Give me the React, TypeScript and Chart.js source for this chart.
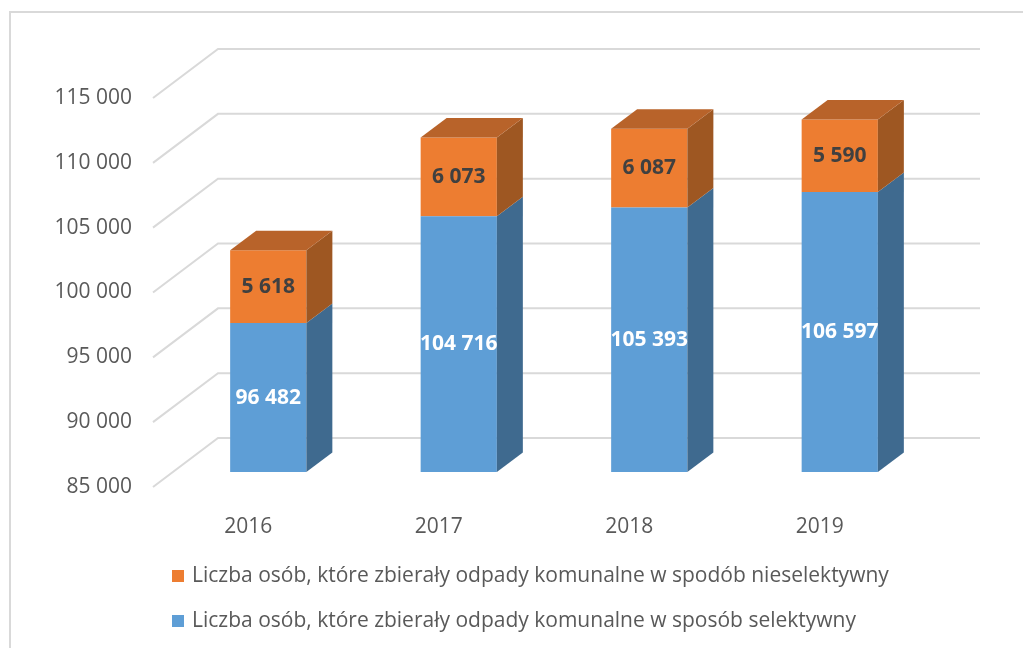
import React, { useEffect, useRef } from "react";
import { Chart, registerables } from "chart.js";

Chart.register(...registerables);

const categories = ["2016", "2017", "2018", "2019"];
const selectiveValues = [96482, 104716, 105393, 106597];
const nonSelectiveValues = [5618, 6073, 6087, 5590];
const seriesLabels = [
  "Liczba osób, które zbierały odpady komunalne w sposób selektywny",
  "Liczba osób, które zbierały odpady komunalne w spodób nieselektywny",
];
const yMin = 85000;
const yMax = 115000;
const yStep = 5000;

const FONT = '"Open Sans", "DejaVu Sans", sans-serif';
const TEXT_GRAY = "#595959";
const GRID = "#D9D9D9";

const BLUE = { front: "#5E9ED6", side: "#3F6A8F", top: "#4A7DAB" };
const ORANGE = { front: "#ED7D31", side: "#9E5722", top: "#B8632A" };

// 3D projection offsets
const FRONT_DX = 20;
const FRONT_DY = -15;
const BAR_DX = 26;
const BAR_DY = -19.5;
const WALL_DX = 65;
const WALL_DY = -49;

const fmt = (v: number) => String(v).replace(/\B(?=(\d{3})+(?!\d))/g, " ");

function segment(chart: any, el: any) {
  const p = el.getProps(["x", "y", "base", "width"], true);
  const a = chart.chartArea;
  const top = Math.max(Math.min(p.y, p.base), a.top);
  const bottom = Math.min(Math.max(p.y, p.base), a.bottom);
  return { x: p.x, left: p.x - p.width / 2, right: p.x + p.width / 2, top, bottom };
}

const threeD = {
  id: "threeD",
  beforeDatasetsDraw(chart: any) {
    const { ctx, chartArea: a } = chart;
    const ys = chart.scales.y;
    ctx.save();
    // frame
    ctx.strokeStyle = GRID;
    ctx.lineWidth = 2;
    ctx.beginPath();
    ctx.moveTo(10, 648);
    ctx.lineTo(10, 12);
    ctx.lineTo(1023, 12);
    ctx.stroke();
    // grid with floor diagonals
    ctx.lineWidth = 2;
    ys.ticks.forEach((t: any) => {
      const py = ys.getPixelForValue(t.value);
      ctx.beginPath();
      ctx.moveTo(a.left, py);
      ctx.lineTo(a.left + WALL_DX, py + WALL_DY);
      ctx.lineTo(a.right + WALL_DX, py + WALL_DY);
      ctx.stroke();
    });
    ctx.restore();
    ctx.save();
    ctx.translate(FRONT_DX, FRONT_DY);
  },
  afterDatasetsDraw(chart: any) {
    const { ctx } = chart;
    ctx.restore();
    ctx.save();
    ctx.translate(FRONT_DX, FRONT_DY);
    const nDs = chart.data.datasets.length;
    for (let d = 0; d < nDs; d++) {
      const meta = chart.getDatasetMeta(d);
      const colors = d === 0 ? BLUE : ORANGE;
      meta.data.forEach((el: any) => {
        const s = segment(chart, el);
        ctx.fillStyle = colors.side;
        ctx.beginPath();
        ctx.moveTo(s.right, s.top);
        ctx.lineTo(s.right + BAR_DX, s.top + BAR_DY);
        ctx.lineTo(s.right + BAR_DX, s.bottom + BAR_DY);
        ctx.lineTo(s.right, s.bottom);
        ctx.closePath();
        ctx.fill();
        if (d === nDs - 1) {
          ctx.fillStyle = colors.top;
          ctx.beginPath();
          ctx.moveTo(s.left, s.top);
          ctx.lineTo(s.left + BAR_DX, s.top + BAR_DY);
          ctx.lineTo(s.right + BAR_DX, s.top + BAR_DY);
          ctx.lineTo(s.right, s.top);
          ctx.closePath();
          ctx.fill();
        }
      });
    }
    // data labels
    ctx.font = `bold 21px ${FONT}`;
    ctx.textAlign = "center";
    ctx.textBaseline = "middle";
    for (let d = 0; d < nDs; d++) {
      const meta = chart.getDatasetMeta(d);
      const ds = chart.data.datasets[d];
      ctx.fillStyle = d === 0 ? "#FFFFFF" : "#404040";
      meta.data.forEach((el: any, i: number) => {
        const s = segment(chart, el);
        ctx.fillText(fmt(ds.data[i]), s.x, (s.top + s.bottom) / 2);
      });
    }
    ctx.restore();

    // legend (reverse order, left aligned)
    ctx.save();
    ctx.font = `21px ${FONT}`;
    ctx.textAlign = "left";
    ctx.textBaseline = "middle";
    const rows = [
      { label: chart.data.datasets[1].label, color: ORANGE.front, y: 576 },
      { label: chart.data.datasets[0].label, color: BLUE.front, y: 621 },
    ];
    rows.forEach((r) => {
      ctx.fillStyle = r.color;
      ctx.fillRect(172, r.y - 6, 12, 12);
      ctx.fillStyle = TEXT_GRAY;
      ctx.fillText(r.label, 192, r.y);
    });
    ctx.restore();
  },
};

export default function App() {
  const ref = useRef<HTMLCanvasElement | null>(null);
  useEffect(() => {
    if (!ref.current) return;
    const chart = new Chart(ref.current, {
      type: "bar",
      data: {
        labels: categories,
        datasets: [
          {
            label: seriesLabels[0],
            data: selectiveValues,
            backgroundColor: BLUE.front,
            categoryPercentage: 0.8,
            barPercentage: 0.5,
          },
          {
            label: seriesLabels[1],
            data: nonSelectiveValues,
            backgroundColor: ORANGE.front,
            categoryPercentage: 0.8,
            barPercentage: 0.5,
          },
        ],
      },
      options: {
        animation: false,
        responsive: false,
        maintainAspectRatio: false,
        layout: { padding: { left: 0, right: 108, top: 98, bottom: 101 } },
        plugins: {
          legend: { display: false },
          tooltip: { enabled: false },
        },
        scales: {
          x: {
            stacked: true,
            grid: { display: false },
            border: { display: false },
            ticks: {
              color: TEXT_GRAY,
              font: { family: FONT, size: 21 },
              padding: 19,
              maxRotation: 0,
            },
            afterFit: (s: any) => {
              s.height = 60;
            },
          },
          y: {
            stacked: true,
            min: yMin,
            max: yMax,
            grid: { display: false, drawTicks: false },
            border: { display: false },
            ticks: {
              stepSize: yStep,
              color: TEXT_GRAY,
              font: { family: FONT, size: 21 },
              padding: 21,
              callback: (v: any) => fmt(Number(v)),
            },
            afterFit: (s: any) => {
              s.width = 153;
            },
          },
        },
      },
      plugins: [threeD],
    });
    return () => chart.destroy();
  }, []);
  return (
    <div style={{ position: "fixed", left: 0, top: 0, width: 1023, height: 648, background: "#fff" }}>
      <canvas ref={ref} width={1023} height={648} style={{ display: "block" }} />
    </div>
  );
}
